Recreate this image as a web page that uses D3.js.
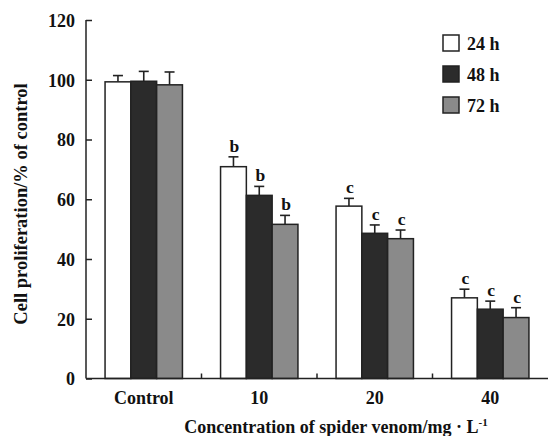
<!DOCTYPE html>
<html><head><meta charset="utf-8">
<script src="https://cdn.jsdelivr.net/npm/d3@7"></script>
<style>
html,body{margin:0;padding:0;background:#fff;}
svg{display:block;font-family:"Liberation Serif","Times New Roman",serif;font-weight:bold;}
</style></head>
<body>
<svg id="chart" width="549" height="436"></svg>
<script>
const categories = ["Control", "10", "20", "40"];
const seriesNames = ["24 h", "48 h", "72 h"];
const values24 = [99.3, 70.9, 57.7, 27.0];
const values48 = [99.5, 61.3, 48.6, 23.2];
const values72 = [98.3, 51.6, 46.8, 20.4];
const errors24 = [2.1, 3.3, 2.6, 2.9];
const errors48 = [3.3, 3.0, 2.8, 2.7];
const errors72 = [4.3, 3.0, 2.9, 3.3];
const letters24 = ["", "b", "c", "c"];
const letters48 = ["", "b", "c", "c"];
const letters72 = ["", "b", "c", "c"];
const yTicks = [0, 20, 40, 60, 80, 100, 120];
const colors = ["#ffffff", "#2b2b2b", "#8a8a8a"];

const seriesVals = [values24, values48, values72];
const seriesErr = [errors24, errors48, errors72];
const seriesLet = [letters24, letters48, letters72];

const svg = d3.select("#chart");
const x0 = 86, x1 = 548;
const y = d3.scaleLinear().domain([0, 120]).range([378.5, 20]);
const xBand = d3.scaleBand().domain(categories).range([x0, x1]).padding(0);
const groupW = xBand.bandwidth() * 0.67;
const xSub = d3.scaleBand().domain(seriesNames).range([0, groupW]).padding(0);

const data = [];
categories.forEach((c, i) => {
  seriesNames.forEach((s, j) => {
    data.push({cat: c, ser: s, j, v: seriesVals[j][i], e: seriesErr[j][i], l: seriesLet[j][i]});
  });
});
const bx = d => xBand(d.cat) + (xBand.bandwidth() - groupW) / 2 + xSub(d.ser);

// error bars
const eg = svg.append("g").attr("stroke", "#222").attr("stroke-width", 1.6);
data.forEach(d => {
  const cx = bx(d) + xSub.bandwidth() / 2;
  eg.append("line").attr("x1", cx).attr("x2", cx).attr("y1", y(d.v)).attr("y2", y(d.v + d.e));
  eg.append("line").attr("x1", cx - 5).attr("x2", cx + 5).attr("y1", y(d.v + d.e)).attr("y2", y(d.v + d.e));
});

// bars
svg.append("g").selectAll("rect").data(data).join("rect")
  .attr("x", bx)
  .attr("y", d => y(d.v))
  .attr("width", xSub.bandwidth())
  .attr("height", d => y(0) - y(d.v))
  .attr("fill", d => colors[d.j])
  .attr("stroke", "#222")
  .attr("stroke-width", 1.5);

// letters
svg.append("g").selectAll("text").data(data.filter(d => d.l)).join("text")
  .attr("x", d => bx(d) + xSub.bandwidth() / 2 + 1)
  .attr("y", d => y(d.v + d.e) - 5)
  .attr("text-anchor", "middle")
  .attr("font-size", 17.5)
  .attr("fill", "#111")
  .text(d => d.l);

// y axis
const yAxis = d3.axisRight(y).tickValues(yTicks).tickSize(6).tickPadding(0).tickFormat(d3.format("d"));
const ga = svg.append("g").attr("transform", `translate(${x0},0)`).call(yAxis);
ga.attr("font-family", null).attr("font-size", null);
ga.select(".domain").attr("stroke", "#222").attr("stroke-width", 1.5).attr("d", `M0,${y(120)}V${y(0)}`);
ga.selectAll(".tick line").attr("stroke", "#222").attr("stroke-width", 1.5);
ga.selectAll(".tick text").attr("x", -11).attr("dy", "0.35em").attr("text-anchor", "end")
  .attr("font-size", 18).attr("fill", "#111");

// x axis
const gx = svg.append("g");
gx.append("line").attr("x1", x0).attr("x2", x1).attr("y1", y(0)).attr("y2", y(0)).attr("stroke", "#222").attr("stroke-width", 1.5);
categories.slice(1).forEach(c => {
  gx.append("line").attr("x1", xBand(c)).attr("x2", xBand(c)).attr("y1", y(0)).attr("y2", y(0) - 5).attr("stroke", "#222").attr("stroke-width", 1.5);
});
gx.selectAll("text").data(categories).join("text")
  .attr("x", d => xBand(d) + xBand.bandwidth() / 2)
  .attr("y", 404)
  .attr("text-anchor", "middle")
  .attr("font-size", 18)
  .attr("fill", "#111")
  .text(d => d);

// axis titles
const xt = svg.append("text").attr("x", 336).attr("y", 433).attr("text-anchor", "middle")
  .attr("font-size", 18).attr("fill", "#111");
xt.append("tspan").text("Concentration of spider venom/mg · L");
xt.append("tspan").attr("dy", -7).attr("font-size", 11).text("-1");

svg.append("text").attr("transform", "translate(27,204) rotate(-90)")
  .attr("text-anchor", "middle").attr("font-size", 18.5).attr("fill", "#111")
  .text("Cell proliferation/% of control");

// legend
const lg = svg.append("g");
seriesNames.forEach((s, j) => {
  const ly = 35 + j * 31;
  lg.append("rect").attr("x", 443).attr("y", ly).attr("width", 16).attr("height", 16)
    .attr("fill", colors[j]).attr("stroke", "#222").attr("stroke-width", 1.5);
  lg.append("text").attr("x", 467).attr("y", ly + 15).attr("font-size", 18).attr("fill", "#111").text(s);
});
</script>
</body></html>
